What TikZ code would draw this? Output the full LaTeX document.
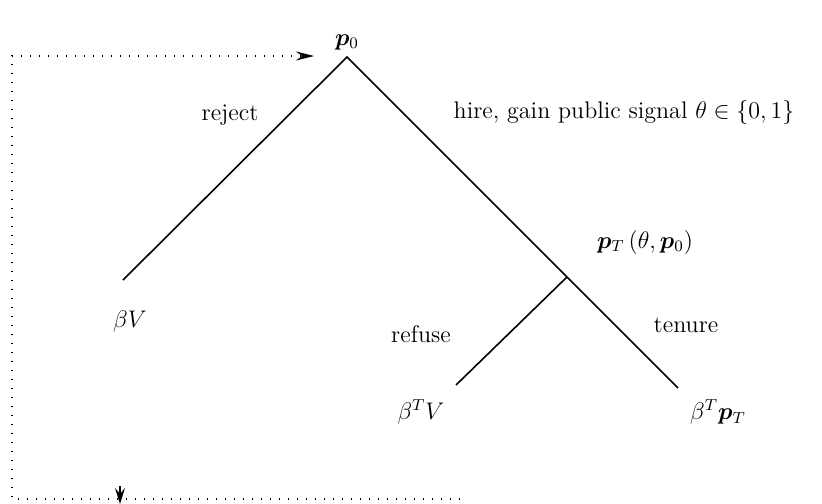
\documentclass[tikz,border=0pt]{standalone}
\usepackage{amsmath,amssymb,bm}
\usetikzlibrary{arrows.meta}
\begin{document}
\begin{tikzpicture}[x=0.5pt,y=-0.5pt,
  branch/.style={line width=0.8pt},
  loop/.style={line width=0.8pt,dash pattern=on 0.7pt off 3.8pt},
  tip/.style={-{Stealth[length=9pt,width=4.5pt,inset=3pt]}},
  lbl/.style={inner sep=0pt,font=\large}]
\useasboundingbox (0,0) rectangle (822,503);
\coordinate (root) at (347,57);
\coordinate (rej) at (123,280);
\coordinate (mid) at (567,277);
\coordinate (ten) at (678,388);
\coordinate (ref) at (456,385);
\draw[branch] (rej) -- (root) -- (ten);
\draw[branch] (mid) -- (ref);
\node[lbl] (p0) at (347,42) {$\bm{p}_0$};
\node[lbl] (bv) at (130,321) {$\beta V$};
\node[lbl] (rj) at (230,115) {reject};
\node[lbl] (hire) at (624,112) {hire, gain public signal $\theta\in\{0,1\}$};
\node[lbl] (pt) at (645,242) {$\bm{p}_T\,(\theta,\bm{p}_0)$};
\node[lbl] (rf) at (421,334) {refuse};
\node[lbl] (tn) at (686,325) {tenure};
\node[lbl] (btv) at (421,412) {$\beta^T V$};
\node[lbl] (btp) at (718,412) {$\beta^T\bm{p}_T$};
\coordinate (s) at (460,499);
\coordinate (c1) at (12,499);
\coordinate (c2) at (12,56);
\coordinate (e) at (314,56);
\draw[loop,tip] (s) -- (c1) -- (c2) -- (e);
\coordinate (d0) at (120,486);
\coordinate (d1) at (120,504);
\draw[line width=0.8pt,-{Stealth[length=8pt,width=5pt,inset=3pt]}] (d0) -- (d1);
\end{tikzpicture}
\end{document}
